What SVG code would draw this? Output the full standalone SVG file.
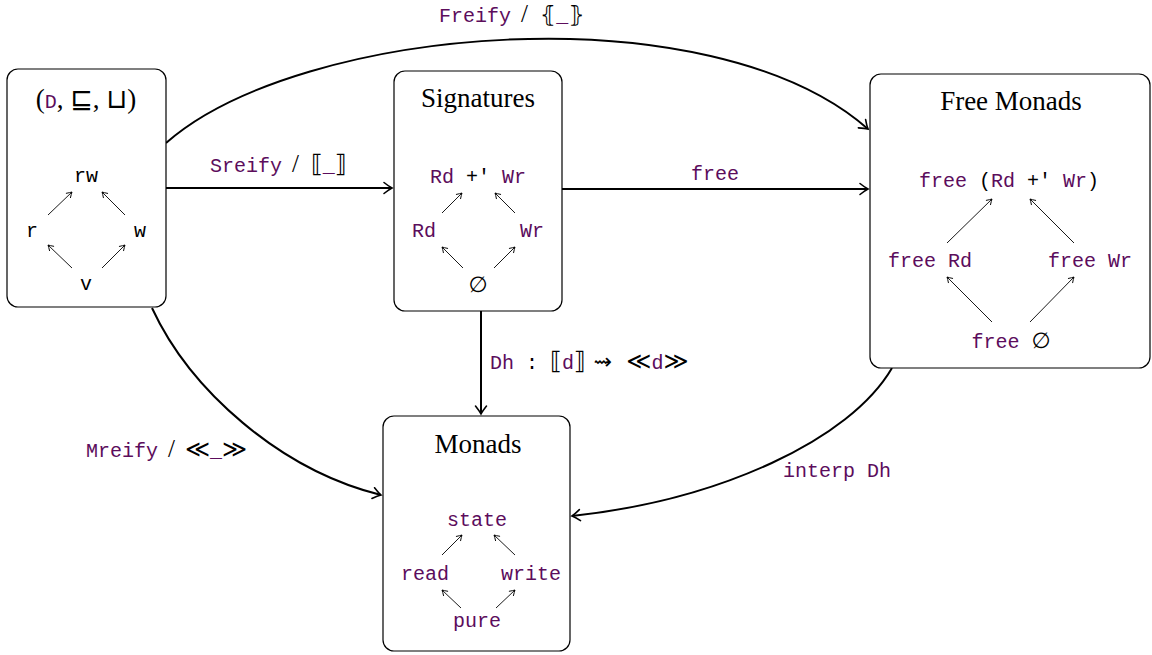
<svg xmlns="http://www.w3.org/2000/svg" width="1152" height="655" viewBox="0 0 1152 655">
<style>
.box{fill:#fff;stroke:#000;stroke-width:1.2}
.ttl{font-family:"Liberation Serif","DejaVu Serif",serif;font-size:27px;fill:#000;text-anchor:middle}
.m{font-family:"Liberation Mono","DejaVu Sans Mono",monospace;font-size:20px;fill:#000}
.p{fill:#5c0d5c}
.s{font-family:"DejaVu Sans ExtraLight","DejaVu Sans","DejaVu Serif",serif;fill:#000}
.sl{font-family:"Liberation Serif","DejaVu Serif",serif;font-size:25px;fill:#000}
.mid{text-anchor:middle}
.conn{fill:none;stroke:#000;stroke-width:2}
.sm{fill:none;stroke:#000;stroke-width:0.9}
</style>
<defs>
<marker id="ah" markerUnits="userSpaceOnUse" markerWidth="16" markerHeight="16" viewBox="-10 -8 12 16" refX="0" refY="0" orient="auto">
<path d="M-8,-5.5 Q-3,-1.5 0,0 Q-3,1.5 -8,5.5" fill="none" stroke="#000" stroke-width="1.6" stroke-linecap="round"/>
</marker>
<marker id="sa" markerUnits="userSpaceOnUse" markerWidth="10" markerHeight="10" viewBox="-6 -5 8 10" refX="0" refY="0" orient="auto">
<path d="M-5,-3 Q-2,-1 0,0 Q-2,1 -5,3" fill="none" stroke="#000" stroke-width="0.9" stroke-linecap="round"/>
</marker>
</defs>

<g id="connectors">
<path class="conn" d="M166,143 C300,25 710,-10 868,129" marker-end="url(#ah)"/>
<text x="439" y="22" class="m"><tspan class="p">Freify</tspan><tspan class="sl" dx="10">/</tspan><tspan class="s" font-size="22" dx="12">⦃</tspan><tspan class="p">_</tspan><tspan class="s" font-size="22">⦄</tspan></text>

<path class="conn" d="M166,188 L392,188" marker-end="url(#ah)"/>
<text x="210" y="172" class="m"><tspan class="p">Sreify</tspan><tspan class="sl" dx="10">/</tspan><tspan class="s" font-size="24" dx="12">⟦</tspan><tspan class="p">_</tspan><tspan class="s" font-size="24">⟧</tspan></text>

<path class="conn" d="M562,189 L868,189" marker-end="url(#ah)"/>
<text x="715" y="180" class="m p mid">free</text>

<path class="conn" d="M481,311 L481,414" marker-end="url(#ah)"/>
<text x="490" y="369" class="m"><tspan class="p">Dh</tspan> : <tspan class="s" font-size="24">⟦</tspan><tspan class="p">d</tspan><tspan class="s" font-size="24">⟧</tspan><tspan class="s" font-size="22" dx="8">⇝</tspan><tspan class="s" font-size="24" dx="14">≪</tspan><tspan class="p">d</tspan><tspan class="s" font-size="24">≫</tspan></text>

<path class="conn" d="M152,308 C190,390 280,470 381,495" marker-end="url(#ah)"/>
<text x="86" y="457" class="m"><tspan class="p">Mreify</tspan><tspan class="sl" dx="10">/</tspan><tspan class="s" font-size="24" dx="10">≪</tspan><tspan class="p">_</tspan><tspan class="s" font-size="24">≫</tspan></text>

<path class="conn" d="M892,368 C850,440 720,500 572,516" marker-end="url(#ah)"/>
<text x="783" y="477" class="m p">interp Dh</text>
</g>

<g id="lattice">
<rect class="box" x="7" y="69" width="159" height="238" rx="11"/>
<text x="86" y="108" class="ttl">(<tspan class="m p" font-size="22">D</tspan>, <tspan class="s">⊑</tspan>, <tspan class="s">⊔</tspan>)</text>
<text x="86" y="182" class="m mid">rw</text>
<text x="32" y="237" class="m mid">r</text>
<text x="140" y="237" class="m mid">w</text>
<text x="86" y="290" class="m mid">v</text>
<line class="sm" x1="48" y1="215" x2="72" y2="192" marker-end="url(#sa)"/>
<line class="sm" x1="125" y1="215" x2="102" y2="192" marker-end="url(#sa)"/>
<line class="sm" x1="72" y1="268" x2="48" y2="245" marker-end="url(#sa)"/>
<line class="sm" x1="102" y1="268" x2="125" y2="245" marker-end="url(#sa)"/>
</g>

<g id="signatures">
<rect class="box" x="394" y="71" width="168" height="240" rx="11"/>
<text x="478" y="107" class="ttl">Signatures</text>
<text x="478" y="183" class="m mid"><tspan class="p">Rd</tspan> +' <tspan class="p">Wr</tspan></text>
<text x="424" y="237" class="m p mid">Rd</text>
<text x="532" y="237" class="m p mid">Wr</text>
<text x="478" y="292" class="s mid" font-size="22">∅</text>
<line class="sm" x1="442" y1="213" x2="462" y2="193" marker-end="url(#sa)"/>
<line class="sm" x1="515" y1="213" x2="495" y2="193" marker-end="url(#sa)"/>
<line class="sm" x1="463" y1="268" x2="442" y2="247" marker-end="url(#sa)"/>
<line class="sm" x1="494" y1="268" x2="515" y2="247" marker-end="url(#sa)"/>
</g>

<g id="freemonads">
<rect class="box" x="870" y="74" width="280" height="294" rx="11"/>
<text x="1011" y="110" class="ttl">Free Monads</text>
<text x="1009" y="187" class="m mid"><tspan class="p">free</tspan> (<tspan class="p">Rd</tspan> +' <tspan class="p">Wr</tspan>)</text>
<text x="930" y="267" class="m p mid">free Rd</text>
<text x="1090" y="267" class="m p mid">free Wr</text>
<text x="1011" y="348" class="m mid"><tspan class="p">free</tspan> <tspan class="s" font-size="22">∅</tspan></text>
<line class="sm" x1="947" y1="243" x2="992" y2="199" marker-end="url(#sa)"/>
<line class="sm" x1="1074" y1="243" x2="1030" y2="199" marker-end="url(#sa)"/>
<line class="sm" x1="992" y1="322" x2="947" y2="277" marker-end="url(#sa)"/>
<line class="sm" x1="1030" y1="322" x2="1074" y2="277" marker-end="url(#sa)"/>
</g>

<g id="monads">
<rect class="box" x="383" y="416" width="187" height="235" rx="11"/>
<text x="478" y="453" class="ttl">Monads</text>
<text x="477" y="526" class="m p mid">state</text>
<text x="425" y="580" class="m p mid">read</text>
<text x="531" y="580" class="m p mid">write</text>
<text x="477" y="627" class="m p mid">pure</text>
<line class="sm" x1="442" y1="555" x2="462" y2="535" marker-end="url(#sa)"/>
<line class="sm" x1="515" y1="555" x2="494" y2="535" marker-end="url(#sa)"/>
<line class="sm" x1="461" y1="608" x2="442" y2="590" marker-end="url(#sa)"/>
<line class="sm" x1="496" y1="608" x2="515" y2="590" marker-end="url(#sa)"/>
</g>
</svg>
